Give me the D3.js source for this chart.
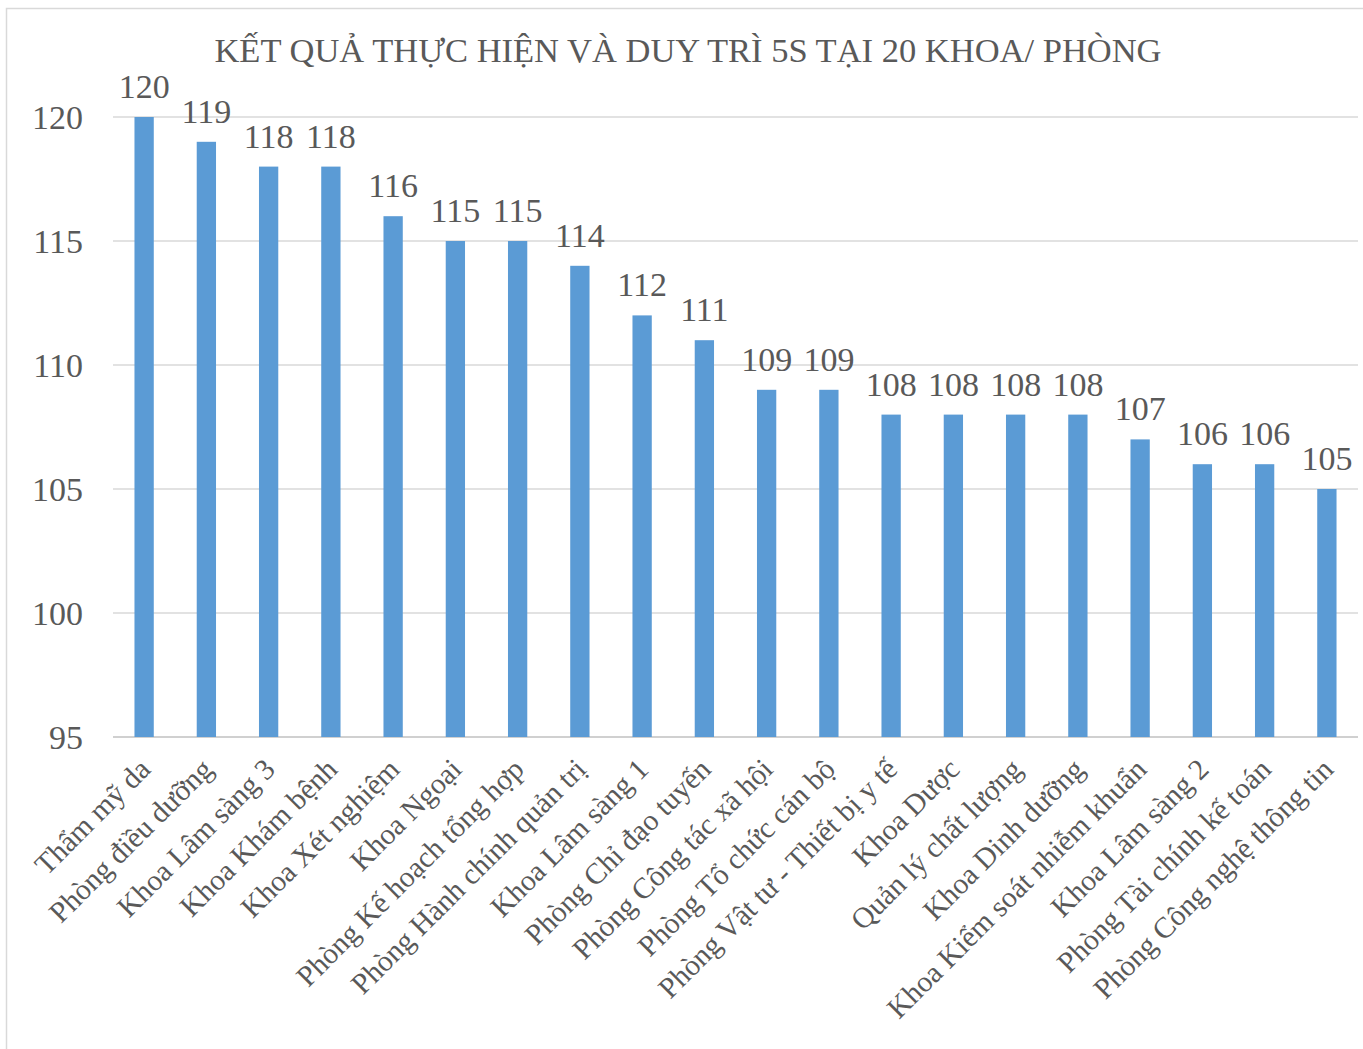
<!DOCTYPE html>
<html>
<head>
<meta charset="utf-8">
<script src="https://cdn.jsdelivr.net/npm/d3@7"></script>
<style>
  body { margin: 0; background: #fff; }
  text { font-family: "Liberation Serif", "Times New Roman", serif; fill: #595959; }
</style>
</head>
<body>
<div id="chart"></div>
<script>
const categories = ['Thẩm mỹ da', 'Phòng điều dưỡng', 'Khoa Lâm sàng 3', 'Khoa Khám bệnh', 'Khoa Xét nghiệm',
  'Khoa Ngoại', 'Phòng Kế hoạch tổng hợp', 'Phòng Hành chính quản trị', 'Khoa Lâm sàng 1', 'Phòng Chỉ đạo tuyến',
  'Phòng Công tác xã hội', 'Phòng Tổ chức cán bộ', 'Phòng Vật tư - Thiết bị y tế', 'Khoa Dược', 'Quản lý chất lượng',
  'Khoa Dinh dưỡng', 'Khoa Kiểm soát nhiễm khuẩn', 'Khoa Lâm sàng 2', 'Phòng Tài chính kế toán', 'Phòng Công nghệ thông tin'];
const values = [120, 119, 118, 118, 116, 115, 115, 114, 112, 111, 109, 109, 108, 108, 108, 108, 107, 106, 106, 105];
const yTicks = [95, 100, 105, 110, 115, 120];
const title = 'KẾT QUẢ THỰC HIỆN VÀ DUY TRÌ 5S TẠI 20 KHOA/ PHÒNG';

const width = 1363, height = 1049;
const margin = {left: 113, right: 5, top: 117, bottom: 312};

const svg = d3.select('#chart').append('svg')
  .attr('width', width).attr('height', height);

// chart frame
svg.append('rect')
  .attr('x', 6.5).attr('y', 8.5)
  .attr('width', width + 10).attr('height', height + 10)
  .attr('fill', 'none').attr('stroke', '#d9d9d9').attr('stroke-width', 1.5);

svg.append('text')
  .attr('x', 688).attr('y', 62)
  .attr('text-anchor', 'middle')
  .attr('font-size', '34.5px')
  .text(title);

const x = d3.scaleBand()
  .domain(categories)
  .range([margin.left, width - margin.right])
  .paddingInner(0.69).paddingOuter(0.345);

const y = d3.scaleLinear()
  .domain([95, 120])
  .range([height - margin.bottom, margin.top]);

// gridlines
svg.append('g')
  .selectAll('line')
  .data(yTicks)
  .join('line')
  .attr('x1', margin.left).attr('x2', width - margin.right)
  .attr('y1', d => y(d)).attr('y2', d => y(d))
  .attr('stroke', d => d === 95 ? '#d0d0d0' : '#d9d9d9')
  .attr('stroke-width', d => d === 95 ? 2 : 1.5);

// y tick labels
svg.append('g')
  .selectAll('text')
  .data(yTicks)
  .join('text')
  .attr('x', 83)
  .attr('y', d => y(d))
  .attr('dy', '0.35em')
  .attr('text-anchor', 'end')
  .attr('font-size', '34px')
  .text(d => d);

// bars
svg.append('g')
  .selectAll('rect')
  .data(values)
  .join('rect')
  .attr('x', (d, i) => x(categories[i]))
  .attr('y', d => y(d))
  .attr('width', x.bandwidth())
  .attr('height', d => y(95) - y(d))
  .attr('fill', '#5b9bd5');

// value labels
svg.append('g')
  .selectAll('text')
  .data(values)
  .join('text')
  .attr('x', (d, i) => x(categories[i]) + x.bandwidth() / 2)
  .attr('y', d => y(d) - 19)
  .attr('text-anchor', 'middle')
  .attr('font-size', '34px')
  .text(d => d);

// category labels
svg.append('g')
  .selectAll('text')
  .data(categories)
  .join('text')
  .attr('transform', d => `translate(${x(d) + x.bandwidth() / 2 + 8},${y(95) + 34}) rotate(-45)`)
  .attr('text-anchor', 'end')
  .attr('font-size', '29.5px')
  .text(d => d);
</script>
</body>
</html>
